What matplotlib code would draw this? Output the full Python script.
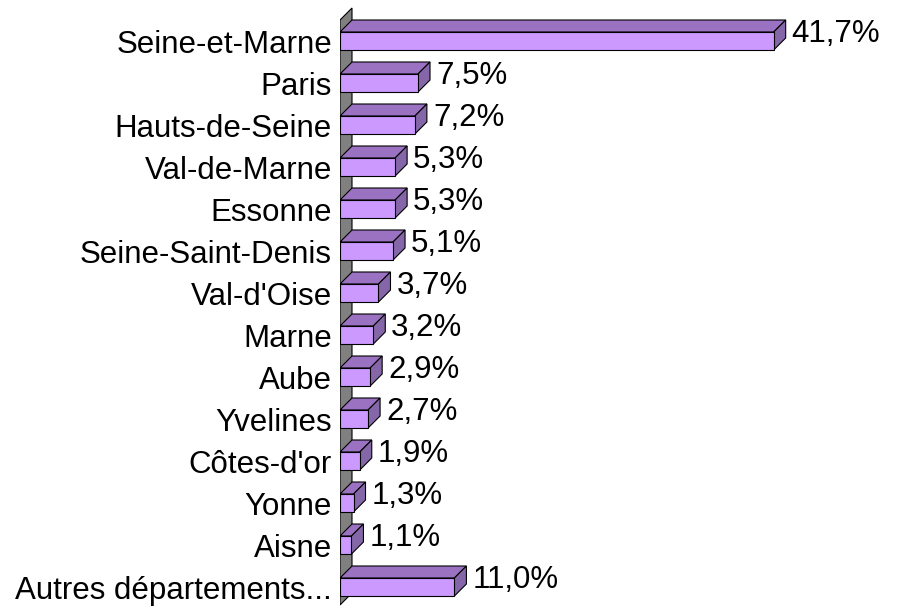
import matplotlib
matplotlib.use("Agg")
import matplotlib.pyplot as plt
from matplotlib.patches import Polygon

categories = ["Seine-et-Marne", "Paris", "Hauts-de-Seine", "Val-de-Marne", "Essonne",
              "Seine-Saint-Denis", "Val-d'Oise", "Marne", "Aube", "Yvelines",
              "Côtes-d'or", "Yonne", "Aisne", "Autres départements..."]
values = [41.7, 7.5, 7.2, 5.3, 5.3, 5.1, 3.7, 3.2, 2.9, 2.7, 1.9, 1.3, 1.1, 11.0]
value_labels = ["41,7%", "7,5%", "7,2%", "5,3%", "5,3%", "5,1%", "3,7%", "3,2%",
                "2,9%", "2,7%", "1,9%", "1,3%", "1,1%", "11,0%"]

plt.rcParams['font.family'] = ['Liberation Sans', 'DejaVu Sans']

W, H = 906, 609
fig = plt.figure(figsize=(W / 100, H / 100), dpi=100)
x0_px, x1_px = 340, 900
ax = fig.add_axes([x0_px / W, 0, (x1_px - x0_px) / W, 1])
pxper = 10.4
ax.set_xlim(0, (x1_px - x0_px) / pxper)
step = 42.0
c0 = 41.0
ax.set_ylim((H - c0) / step, -c0 / step)
ax.axis('off')

dx = 12 / pxper
dy = 12 / step
h = 18 / step

# wall
top_i = (20 - c0) / step
bot_i = (605 - c0) / step
wall = Polygon([(0, top_i), (0, bot_i), (dx, bot_i - dy), (dx, top_i - dy)],
               closed=True, facecolor='#808080', edgecolor='black', lw=0.8, zorder=1)
ax.add_patch(wall)

front_c = '#cc99ff'
top_c = '#9b72c2'
side_c = '#8566a8'
for i, (v, lab) in enumerate(zip(values, value_labels)):
    yt = i - h / 2
    yb = i + h / 2
    top = Polygon([(0, yt), (v, yt), (v + dx, yt - dy), (dx, yt - dy)], closed=True,
                  facecolor=top_c, edgecolor='black', lw=0.8, zorder=2)
    side = Polygon([(v, yt), (v, yb), (v + dx, yb - dy), (v + dx, yt - dy)], closed=True,
                   facecolor=side_c, edgecolor='black', lw=0.8, zorder=2)
    front = Polygon([(0, yt), (v, yt), (v, yb), (0, yb)], closed=True,
                    facecolor=front_c, edgecolor='black', lw=0.8, zorder=3)
    for p in (top, side, front):
        ax.add_patch(p)
    ax.text(v + dx + 6 / pxper, i + 1 / step, lab, ha='left', va='baseline',
            fontsize=22.5, color='black', zorder=4)
    ax.text(-8 / pxper, i + 12 / step, categories[i], ha='right', va='baseline',
            fontsize=22.5, color='black', clip_on=False, zorder=4)

fig.savefig("out.png", dpi=100)
